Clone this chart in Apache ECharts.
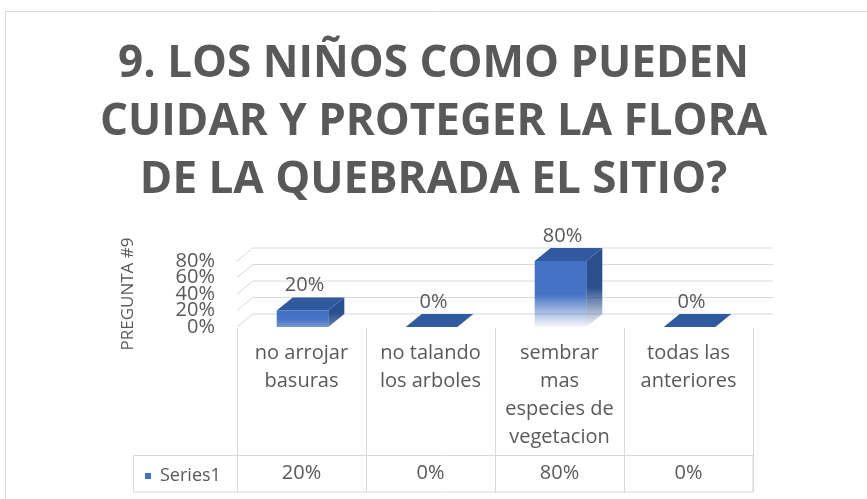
<!DOCTYPE html>
<html>
<head>
<meta charset="utf-8">
<script src="https://cdn.jsdelivr.net/npm/echarts@6/dist/echarts.min.js"></script>
<style>
  html, body { margin: 0; padding: 0; background: #fff; }
  #chart { width: 867px; height: 499px; }
</style>
</head>
<body>
<div id="chart"></div>
<script>
// chart data
let categories = ['no arrojar\nbasuras', 'no talando\nlos arboles', 'sembrar\nmas\nespecies de\nvegetacion', 'todas las\nanteriores'];
let values = [0.2, 0, 0.8, 0];
let yTicks = [0, 0.2, 0.4, 0.6, 0.8];
let seriesName = 'Series1';

let textColor = '#595959';
let lineColor = '#D9D9D9';
let depthX = 16, depthY = -13; // 3d offset of the back wall

function pct(v) {
    return Math.round(v * 100) + '%';
}

let chart = echarts.init(document.getElementById('chart'));

function renderBar(params, api) {
    let i = api.value(0);
    let v = api.value(1);
    let base = api.coord([i, 0]);
    let top = api.coord([i, v]);
    let band = api.size([1, 0])[0];
    let w = band * 0.4;
    let x0 = base[0] - w / 2 + 1;
    let ty = top[1], by = base[1];
    let h = by - ty;
    let children = [];
    let endAlpha = Math.max(0.05, 1 - h / 60);
    if (h > 0.5) {
        children.push({
            type: 'rect',
            shape: { x: x0, y: ty, width: w, height: h },
            style: {
                fill: new echarts.graphic.LinearGradient(0, 0, 0, 1, [
                    { offset: 0, color: '#4472C4' },
                    { offset: 0.5, color: '#4472C4' },
                    { offset: 1, color: 'rgba(68,114,196,' + endAlpha + ')' }
                ])
            }
        });
        children.push({
            type: 'polygon',
            shape: { points: [[x0 + w, ty], [x0 + w + depthX, ty + depthY], [x0 + w + depthX, by + depthY], [x0 + w, by]] },
            style: {
                fill: new echarts.graphic.LinearGradient(0, 0, 0, 1, [
                    { offset: 0, color: '#2B4E8E' },
                    { offset: 0.5, color: '#2B4E8E' },
                    { offset: 1, color: 'rgba(43,78,142,' + endAlpha + ')' }
                ])
            }
        });
    }
    children.push({
        type: 'polygon',
        shape: { points: [[x0, ty], [x0 + w, ty], [x0 + w + depthX, ty + depthY], [x0 + depthX, ty + depthY]] },
        style: { fill: '#3059A0' }
    });
    children.push({
        type: 'text',
        style: {
            text: pct(v),
            x: x0 + w / 2 + 2,
            y: ty + depthY - 12,
            align: 'center',
            verticalAlign: 'middle',
            fill: textColor,
            font: '20px "Open Sans"'
        }
    });
    return { type: 'group', children: children };
}

// back wall gridline + tick label (Excel lets these labels overlap)
function renderWall(params, api) {
    let v = api.value(1);
    let y = api.coord([0, v])[1];
    let cs = params.coordSys;
    return {
        type: 'group',
        children: [
            {
                type: 'polyline',
                shape: { points: [[cs.x, y], [cs.x + depthX, y + depthY], [cs.x + cs.width + 20, y + depthY]] },
                style: { stroke: lineColor, lineWidth: 1, fill: null }
            },
            {
                type: 'text',
                style: {
                    text: pct(v),
                    x: cs.x - 22,
                    y: y,
                    align: 'right',
                    verticalAlign: 'middle',
                    fill: textColor,
                    font: '20px "Open Sans"'
                }
            }
        ]
    };
}

let option = {
    backgroundColor: '#fff',
    animation: false,
    textStyle: { fontFamily: '"Open Sans", sans-serif' },
    title: {
        text: '9. LOS NIÑOS COMO PUEDEN\nCUIDAR Y PROTEGER LA FLORA\nDE LA QUEBRADA EL SITIO?',
        left: 'center',
        top: 30,
        textStyle: {
            fontFamily: '"Open Sans", sans-serif',
            fontSize: 44,
            fontWeight: 'bold',
            lineHeight: 58,
            color: textColor
        }
    },
    legend: {
        data: [{ name: seriesName, icon: 'rect' }],
        left: 140,
        top: 462,
        itemWidth: 6,
        itemHeight: 6,
        textStyle: { fontSize: 18, color: textColor, padding: [0, 0, 0, 4] },
        selectedMode: false
    },
    graphic: [
        {
            type: 'rect',
            shape: { x: 5.5, y: 11.5, width: 900, height: 600 },
            style: { fill: null, stroke: lineColor, lineWidth: 1 },
            silent: true
        },
        {
            type: 'rect',
            shape: { x: 133.5, y: 455.5, width: 619.5, height: 36.5 },
            style: { fill: null, stroke: lineColor, lineWidth: 1 },
            silent: true
        }
    ],
    grid: [
        { left: 237, width: 516, top: 261, height: 66 },
        { left: 237, width: 516, top: 328, height: 164 }
    ],
    xAxis: [
        {
            type: 'category',
            gridIndex: 0,
            data: categories,
            axisLine: { show: false },
            axisTick: { show: false },
            axisLabel: {
                interval: 0,
                margin: 12,
                fontSize: 20,
                lineHeight: 28,
                color: textColor,
                align: 'center'
            }
        },
        {
            type: 'category',
            gridIndex: 1,
            data: categories,
            axisLine: { show: false },
            axisTick: { show: false },
            splitLine: { show: true, interval: 0, lineStyle: { color: lineColor, width: 1 } },
            axisLabel: {
                inside: true,
                interval: 0,
                margin: 9,
                fontSize: 20,
                color: textColor,
                formatter: function (val, idx) {
                    return pct(values[idx]);
                }
            }
        }
    ],
    yAxis: [
        {
            type: 'value',
            gridIndex: 0,
            min: 0,
            max: 0.8,
            interval: 0.2,
            name: 'PREGUNTA #9',
            nameLocation: 'middle',
            nameGap: 100,
            nameTextStyle: { fontSize: 17, color: textColor },
            axisLine: { show: false },
            axisTick: { show: false },
            splitLine: { show: false },
            axisLabel: { show: false }
        },
        {
            type: 'value',
            gridIndex: 1,
            show: false,
            splitLine: { show: false }
        }
    ],
    series: [
        {
            name: 'wall',
            type: 'custom',
            xAxisIndex: 0,
            yAxisIndex: 0,
            silent: true,
            z: 1,
            renderItem: renderWall,
            data: yTicks.map(function (v) { return [0, v]; })
        },
        {
            name: seriesName,
            type: 'custom',
            xAxisIndex: 0,
            yAxisIndex: 0,
            z: 3,
            itemStyle: { color: '#4472C4' },
            renderItem: renderBar,
            encode: { x: 0, y: 1 },
            data: values.map(function (v, i) { return [i, v]; })
        }
    ]
};

chart.setOption(option);
</script>
</body>
</html>
